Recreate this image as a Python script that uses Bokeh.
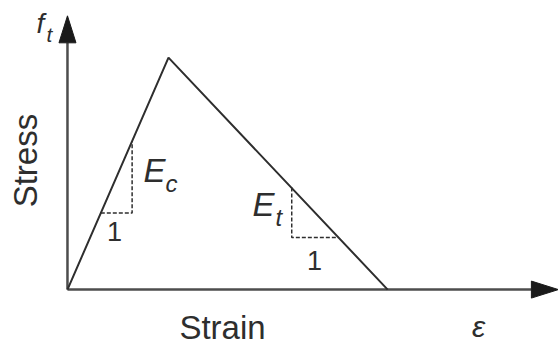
from bokeh.plotting import figure
from bokeh.models import Range1d, Label
from bokeh.embed import file_html
from bokeh.resources import INLINE

# Bilinear tension-softening law (normalised: peak strain = 1, f_t = 1)
strain = [0.0, 1.0, 3.17]
stress = [0.0, 1.0, 0.0]

# Slope triangle on the rising branch (E_c)
ec_strain = [0.33, 0.64]
ec_stress = [0.33, 0.64]

# Slope triangle on the softening branch (E_t)
et_strain = [2.22, 2.68]
et_stress = [0.44, 0.225]

# Extent of the drawn axes (arrow tips)
strain_axis_max = 4.86
stress_axis_max = 1.18

W, H = 558, 345
x_lo, x_hi = -0.663, 4.861
y_lo, y_hi = -0.241, 1.246
px_x = (x_hi - x_lo) / W   # data units per screen pixel
px_y = (y_hi - y_lo) / H

p = figure(width=W, height=H, output_backend="svg", toolbar_location=None,
           x_range=Range1d(x_lo, x_hi), y_range=Range1d(y_lo, y_hi),
           min_border=0, min_border_left=0, min_border_right=0,
           min_border_top=0, min_border_bottom=0)
p.axis.visible = False
p.grid.visible = False
p.outline_line_color = None
p.background_fill_color = "white"
p.border_fill_color = "white"

AX = "#4d4d4d"
INK = "#2e2e2e"

# axes with arrowheads
head_len, head_half = 27, 8.5
p.line([0, 0], [0, stress_axis_max - head_len * px_y], line_color=AX, line_width=2.5)
p.line([0, strain_axis_max - head_len * px_x], [0, 0], line_color=AX, line_width=2.5)
p.patch([-head_half * px_x, head_half * px_x, 0],
        [stress_axis_max - head_len * px_y] * 2 + [stress_axis_max],
        fill_color="#1a1a1a", line_color="#1a1a1a")
p.patch([strain_axis_max - head_len * px_x] * 2 + [strain_axis_max],
        [-head_half * px_y, head_half * px_y, 0],
        fill_color="#1a1a1a", line_color="#1a1a1a")

# constitutive curve
p.line(strain, stress, line_color=INK, line_width=2)

# slope triangles
dash = dict(line_color=INK, line_width=1.5, line_dash="4 2")
p.line([ec_strain[0], ec_strain[1], ec_strain[1]],
       [ec_stress[0], ec_stress[0], ec_stress[1]], **dash)
p.line([et_strain[0], et_strain[0], et_strain[1]],
       [et_stress[0], et_stress[1], et_stress[1]], **dash)

SANS = "Liberation Sans"


def lab(text, x, y, size, style="normal", align="left", angle=0.0):
    p.add_layout(Label(x=x, y=y, text=text, text_font=SANS, text_font_size=f"{size}px",
                       text_font_style=style, text_color=INK, text_align=align,
                       text_baseline="middle", angle=angle))


# axis titles
lab("Stress", -0.416, 0.556, 33, align="center", angle=1.5708)
lab("Strain", 1.535, -0.164, 33, align="center")
lab("ε", 4.069, -0.159, 30, style="italic", align="center")
lab("f", -0.307, 1.147, 28, style="italic")
lab("t", -0.208, 1.099, 21, style="italic")

# moduli labels
lab("E", 0.752, 0.513, 33, style="italic")
lab("c", 0.970, 0.457, 24, style="italic")
lab("E", 1.832, 0.366, 33, style="italic")
lab("t", 2.059, 0.310, 24, style="italic")
lab("1", 0.465, 0.250, 27, align="center")
lab("1", 2.446, 0.125, 27, align="center")

open("out.html", "w").write(file_html(p, INLINE))
